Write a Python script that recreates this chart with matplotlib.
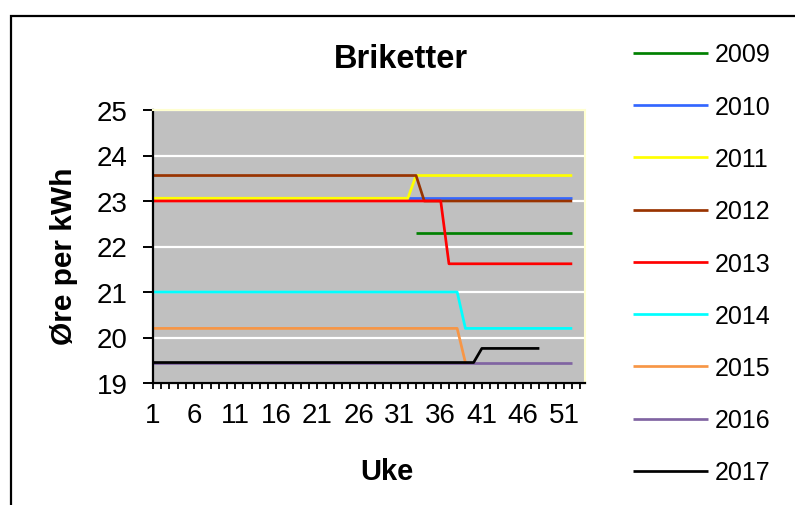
import matplotlib
matplotlib.use('Agg')
import matplotlib.pyplot as plt
from matplotlib.patches import Rectangle

plt.rcParams['font.family'] = 'Liberation Sans'

W, H = 795, 506

years = ['2009', '2010', '2011', '2012', '2013', '2014', '2015', '2016', '2017']
colors = ['#008000', '#3366FF', '#FFFF00', '#993300', '#FF0000',
          '#00FFFF', '#F79646', '#8064A2', '#000000']

# weekly price, given at the weeks where it changes (øre per kWh)
weeks_2009 = [33, 52]
price_2009 = [22.30, 22.30]
weeks_2010 = [32, 52]
price_2010 = [23.07, 23.07]
weeks_2011 = [1, 32, 33, 52]
price_2011 = [23.06, 23.06, 23.56, 23.56]
weeks_2012 = [1, 33, 34, 52]
price_2012 = [23.56, 23.56, 23.00, 23.00]
weeks_2013 = [1, 36, 37, 52]
price_2013 = [23.00, 23.00, 21.62, 21.62]
weeks_2014 = [1, 38, 39, 52]
price_2014 = [21.00, 21.00, 20.20, 20.20]
weeks_2015 = [1, 38, 39]
price_2015 = [20.20, 20.20, 19.45]
weeks_2016 = [1, 52]
price_2016 = [19.45, 19.45]
weeks_2017 = [1, 40, 41, 48]
price_2017 = [19.45, 19.45, 19.76, 19.76]

all_weeks = [weeks_2009, weeks_2010, weeks_2011, weeks_2012, weeks_2013,
             weeks_2014, weeks_2015, weeks_2016, weeks_2017]
all_prices = [price_2009, price_2010, price_2011, price_2012, price_2013,
              price_2014, price_2015, price_2016, price_2017]

week_ticks = list(range(1, 54))
week_labels = [str(w) if (w - 1) % 5 == 0 else '' for w in week_ticks]
y_ticks = [19, 20, 21, 22, 23, 24, 25]

fig = plt.figure(figsize=(W / 100, H / 100), dpi=100)
ax = fig.add_axes([153 / W, 1 - 384 / H, 432 / W, 273 / H])
ax.set_facecolor('#C0C0C0')

for year, wk, pr, col in zip(years, all_weeks, all_prices, colors):
    ax.plot(wk, pr, color=col, lw=1.95, label=year, solid_capstyle='butt')

ax.set_xlim(1, 53.55)
ax.set_ylim(19, 25)
ax.set_xticks(week_ticks)
ax.set_xticklabels(week_labels)
ax.set_yticks(y_ticks)
ax.yaxis.grid(True, color='white', lw=1.6)
ax.set_axisbelow(True)

ax.tick_params(axis='x', length=4.5, width=1.3, direction='out',
               labelsize=20, pad=9)
ax.tick_params(axis='y', length=7.2, width=1.4, direction='out',
               labelsize=20, pad=11)

for side in ['left', 'bottom']:
    ax.spines[side].set_linewidth(1.6)
    ax.spines[side].set_color('black')
for side in ['top', 'right']:
    ax.spines[side].set_linewidth(1.5)
    ax.spines[side].set_color('#FFFFD0')

fig.text(401 / W, 1 - 68.5 / H, 'Briketter', fontsize=23.5, fontweight='bold',
         ha='center', va='baseline')
fig.text(387 / W, 1 - 480 / H, 'Uke', fontsize=21, fontweight='bold',
         ha='center', va='baseline')
fig.text(78 / W, 1 - 256.5 / H, 'Øre per kWh', fontsize=21.5,
         fontweight='bold', rotation=90, ha='right', va='center')

leg = ax.legend(loc='upper left', bbox_to_anchor=(633 / W, 1 - 43.5 / H),
                bbox_transform=fig.transFigure, frameon=False, fontsize=18,
                handlelength=3.0, handletextpad=0.28, labelspacing=1.13,
                borderpad=0, borderaxespad=0)

# outer chart frame
fig.add_artist(Rectangle((11 / W, -0.5), 2, 1.5 - 17 / H,
                         transform=fig.transFigure, fill=False,
                         edgecolor='black', lw=1.6))

fig.savefig('out.png', dpi=100)
